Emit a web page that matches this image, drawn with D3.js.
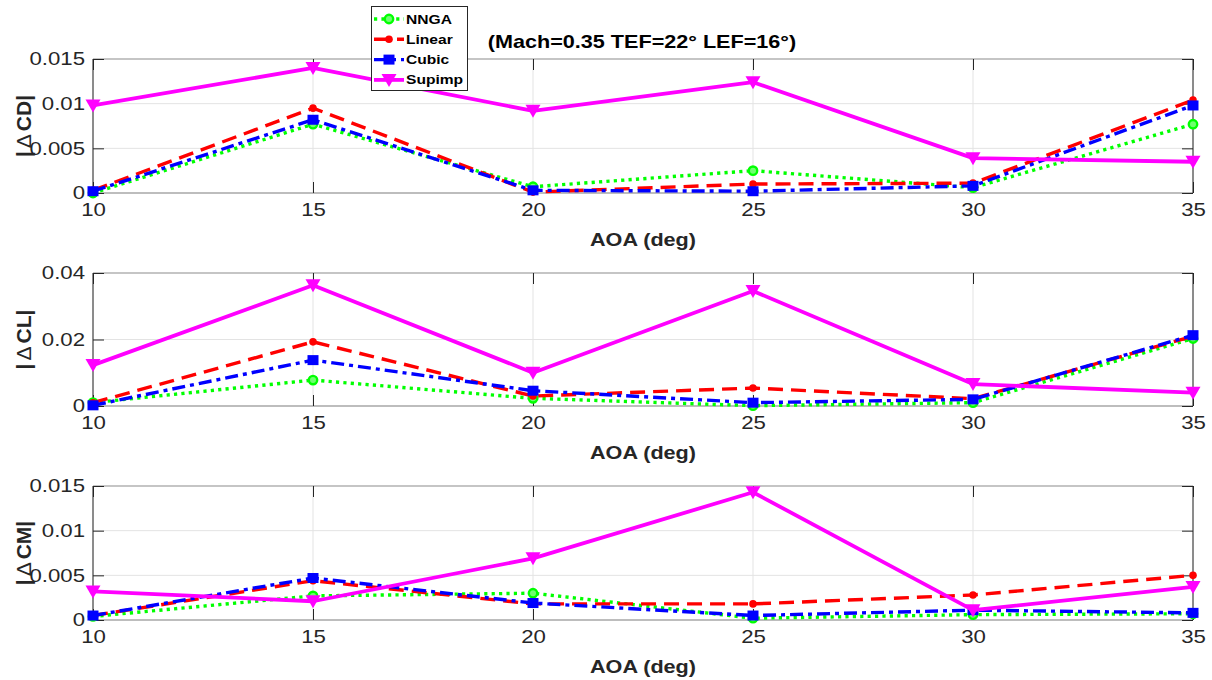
<!DOCTYPE html>
<html>
<head>
<meta charset="utf-8">
<script src="https://cdn.jsdelivr.net/npm/d3@7"></script>
<style>
  html, body { margin: 0; padding: 0; background: #fff; }
  svg { display: block; font-family: "Liberation Sans", Arial, Helvetica, sans-serif; }
</style>
</head>
<body>
<svg id="chart" width="1212" height="680"></svg>
<script>
// Angle of attack stations (deg)
const aoa = [10, 15, 20, 25, 30, 35];
const xTicks = [10, 15, 20, 25, 30, 35];

const seriesNames = ["NNGA", "Linear", "Cubic", "Supimp"];

// |ΔCD|
const cdNNGA   = [0.0000, 0.0077, 0.0007, 0.0025, 0.0006, 0.0077];
const cdLinear = [0.0003, 0.0095, 0.0001, 0.0010, 0.0011, 0.0104];
const cdCubic  = [0.0002, 0.0082, 0.0003, 0.0002, 0.0008, 0.0098];
const cdSupimp = [0.0098, 0.0140, 0.0092, 0.0124, 0.0039, 0.0035];
const cdTicks  = [0, 0.005, 0.01, 0.015];

// |ΔCL|
const clNNGA   = [0.0010, 0.0078, 0.0023, 0.0001, 0.0010, 0.0203];
const clLinear = [0.0010, 0.0193, 0.0030, 0.0054, 0.0022, 0.0210];
const clCubic  = [0.0002, 0.0138, 0.0046, 0.0010, 0.0020, 0.0213];
const clSupimp = [0.0123, 0.0363, 0.0100, 0.0346, 0.0066, 0.0040];
const clTicks  = [0, 0.02, 0.04];

// |ΔCM|
const cmNNGA   = [0.0004, 0.0027, 0.0030, 0.0002, 0.0006, 0.0007];
const cmLinear = [0.0005, 0.0044, 0.0018, 0.0018, 0.0028, 0.0050];
const cmCubic  = [0.0005, 0.0047, 0.0019, 0.0005, 0.0011, 0.0008];
const cmSupimp = [0.0032, 0.0021, 0.0069, 0.0143, 0.0011, 0.0037];
const cmTicks  = [0, 0.005, 0.01, 0.015];

const titleText = "(Mach=0.35 TEF=22\u00B0 LEF=16\u00B0)";
const xLabel = "AOA (deg)";

const panels = [
  { ylabel: "CD", ticks: cdTicks, max: 0.015, series: [cdNNGA, cdLinear, cdCubic, cdSupimp], top: 59,  bottom: 193 },
  { ylabel: "CL", ticks: clTicks, max: 0.04,  series: [clNNGA, clLinear, clCubic, clSupimp], top: 273, bottom: 406 },
  { ylabel: "CM", ticks: cmTicks, max: 0.015, series: [cmNNGA, cmLinear, cmCubic, cmSupimp], top: 486, bottom: 620 }
];

// Line/marker styles per series
const styles = [
  { color: "#00ff00", dash: "3.2,4.2", width: 3.4, marker: "circle" },
  { color: "#ff0000", dash: "15,8",  width: 3.4, marker: "dot" },
  { color: "#0000ff", dash: "13,5,4,5", width: 3.4, marker: "square" },
  { color: "#ff00ff", dash: null,    width: 3.8, marker: "tri" }
];

// Text in this figure is drawn slightly wide
const SX = 1.2;

const svg = d3.select("#chart");
const left = 93, right = 1193;
const x = d3.scaleLinear().domain([10, 35]).range([left, right]);

function widen(sel) {
  sel.each(function () {
    const t = d3.select(this);
    const tx = +(t.attr("x") || 0);
    t.attr("x", tx / SX).attr("transform", `scale(${SX},1)`);
  });
}

function drawMarker(g, kind, cx, cy, color) {
  if (kind === "circle") {
    g.append("circle").attr("cx", cx).attr("cy", cy).attr("r", 4.2)
      .attr("fill", "#70ff70").attr("stroke", color).attr("stroke-width", 2.4);
  } else if (kind === "dot") {
    g.append("circle").attr("cx", cx).attr("cy", cy).attr("r", 3.8).attr("fill", color);
  } else if (kind === "square") {
    g.append("rect").attr("x", cx - 5.5).attr("y", cy - 5).attr("width", 11).attr("height", 10).attr("fill", color);
  } else if (kind === "tri") {
    g.append("path").attr("d", `M${cx - 7.5},${cy - 6}L${cx + 7.5},${cy - 6}L${cx},${cy + 7}Z`).attr("fill", color);
  }
}

panels.forEach(p => {
  const y = d3.scaleLinear().domain([0, p.max]).range([p.bottom, p.top]);
  const g = svg.append("g");

  // grid
  g.selectAll(".gx").data(xTicks).join("line")
    .attr("x1", d => x(d)).attr("x2", d => x(d)).attr("y1", p.top).attr("y2", p.bottom)
    .attr("stroke", "#e3e3e3").attr("stroke-width", 1);
  g.selectAll(".gy").data(p.ticks).join("line")
    .attr("x1", left).attr("x2", right).attr("y1", d => y(d)).attr("y2", d => y(d))
    .attr("stroke", "#e3e3e3").attr("stroke-width", 1);

  // box
  g.append("line").attr("x1", left).attr("x2", right).attr("y1", p.top).attr("y2", p.top)
    .attr("stroke", "#9a9a9a").attr("stroke-width", 1.2);
  g.append("line").attr("x1", left).attr("x2", right).attr("y1", p.bottom).attr("y2", p.bottom)
    .attr("stroke", "#8a8a8a").attr("stroke-width", 1.2);
  g.append("line").attr("x1", left).attr("x2", left).attr("y1", p.top).attr("y2", p.bottom)
    .attr("stroke", "#262626").attr("stroke-width", 1);
  g.append("line").attr("x1", right).attr("x2", right).attr("y1", p.top).attr("y2", p.bottom)
    .attr("stroke", "#262626").attr("stroke-width", 1);

  // axes with inward ticks
  const xa = g.append("g").attr("transform", `translate(0,${p.bottom})`)
    .call(d3.axisBottom(x).tickValues(xTicks).tickSize(-11).tickPadding(10).tickFormat(d3.format("d")));
  xa.select(".domain").remove();
  xa.selectAll("line").attr("stroke", "#262626");
  xa.selectAll("text").attr("fill", "#262626").attr("font-size", 18.5).call(widen);

  const xt = g.append("g").attr("transform", `translate(0,${p.top})`)
    .call(d3.axisTop(x).tickValues(xTicks).tickSize(-11).tickFormat(""));
  xt.select(".domain").remove();
  xt.selectAll("line").attr("stroke", "#262626");

  const ya = g.append("g").attr("transform", `translate(${left},0)`)
    .call(d3.axisLeft(y).tickValues(p.ticks).tickSize(-11).tickPadding(8).tickFormat(d3.format("~g")));
  ya.select(".domain").remove();
  ya.selectAll("line").attr("stroke", "#262626");
  ya.selectAll("text").attr("fill", "#262626").attr("font-size", 18.5).call(widen);

  const yr = g.append("g").attr("transform", `translate(${right},0)`)
    .call(d3.axisRight(y).tickValues(p.ticks).tickSize(-11).tickFormat(""));
  yr.select(".domain").remove();
  yr.selectAll("line").attr("stroke", "#262626");

  // axis labels
  g.append("text")
    .attr("transform", `translate(${(left + right) / 2},${p.bottom + 53}) scale(${SX},1)`)
    .attr("text-anchor", "middle").attr("font-size", 18).attr("font-weight", "bold")
    .attr("fill", "#262626").text(xLabel);

  const yl = g.append("text")
    .attr("transform", `translate(31,${(p.top + p.bottom) / 2}) rotate(-90)`)
    .attr("text-anchor", "middle").attr("font-size", 21).attr("font-weight", "bold").attr("fill", "#262626");
  yl.append("tspan").text("|");
  yl.append("tspan").attr("font-weight", "normal").attr("dx", 3).text("\u0394");
  yl.append("tspan").attr("dx", 3).text(p.ylabel + "|");

  // series
  const line = d3.line().x((d, i) => x(aoa[i])).y(d => y(d));
  p.series.forEach((vals, si) => {
    const st = styles[si];
    const sg = g.append("g");
    sg.append("path").datum(vals).attr("d", line).attr("fill", "none")
      .attr("stroke", st.color).attr("stroke-width", st.width)
      .attr("stroke-dasharray", st.dash).attr("stroke-linejoin", "round");
    vals.forEach((v, i) => drawMarker(sg, st.marker, x(aoa[i]), y(v), st.color));
  });
});

// title
svg.append("text").attr("transform", `translate(642,48) scale(${SX},1)`).attr("text-anchor", "middle")
  .attr("font-size", 18).attr("font-weight", "bold").attr("fill", "#000").text(titleText);

// legend
const lg = svg.append("g");
lg.append("rect").attr("x", 371.5).attr("y", 6.5).attr("width", 96).attr("height", 84)
  .attr("fill", "#fff").attr("stroke", "#262626").attr("stroke-width", 1);
seriesNames.forEach((name, i) => {
  const st = styles[i];
  const yy = 19 + i * 20.3;
  lg.append("line").attr("x1", 374).attr("x2", 404).attr("y1", yy).attr("y2", yy)
    .attr("stroke", st.color).attr("stroke-width", st.width).attr("stroke-dasharray", st.dash);
  drawMarker(lg, st.marker, 389, yy, st.color);
  lg.append("text").attr("transform", `translate(406,${yy + 4.5}) scale(${SX},1)`).attr("font-size", 13)
    .attr("font-weight", "bold").attr("fill", "#000").text(name);
});
</script>
</body>
</html>
